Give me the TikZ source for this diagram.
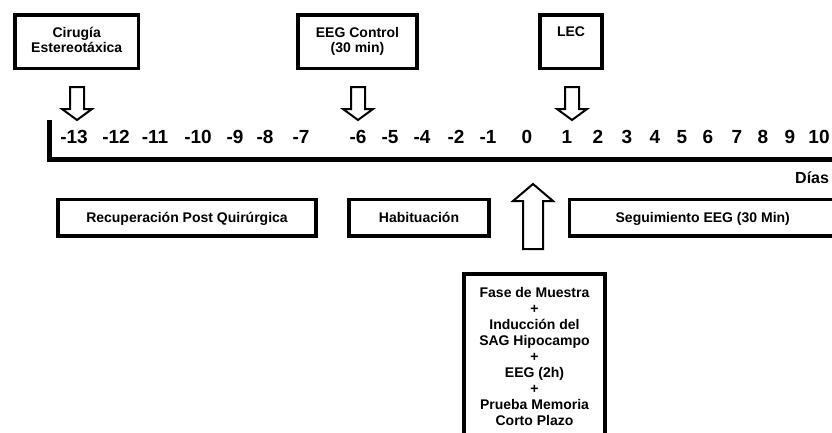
\documentclass[tikz,border=0pt]{standalone}
\usepackage{fontspec}
\setmainfont{Liberation Sans}

\tikzset{
  downblock/.pic={
    \draw[blockarrow] (-7,-33) -- (7,-33) -- (7,-11) -- (15,-11) -- (0,0)
      -- (-15,-11) -- (-7,-11) -- cycle;
  },
  upblock/.pic={
    \draw[blockarrow] (-10,65) -- (10,65) -- (10,17) -- (20,17) -- (0,0)
      -- (-20,17) -- (-10,17) -- cycle;
  }
}

\begin{document}
\begin{tikzpicture}[x=1pt,y=-1pt,
  frame/.style={draw=black, line width=3.5pt, fill=white, inner sep=0pt},
  lbl/.style={font=\fontsize{14}{15}\selectfont\bfseries, inner sep=0pt, align=center},
  barlbl/.style={font=\fontsize{14}{15}\selectfont\bfseries, text height=10pt, text depth=0pt},
  daynum/.style={font=\fontsize{19}{22}\selectfont\bfseries, inner sep=0pt, anchor=base},
  blockarrow/.style={draw=black, line width=2pt, fill=white, line join=miter}]
\useasboundingbox (0,0) rectangle (832,432);

% events above the time line
\node[frame, minimum width=123.5pt, minimum height=53.5pt] (cir) at (76.75,41.75) {};
\node[lbl, anchor=north] (cirtxt) at (76.75,27) {Cirugía\\Estereotáxica};
\node[frame, minimum width=119pt, minimum height=53.5pt] (eeg) at (357.5,41.75) {};
\node[lbl, anchor=north] (eegtxt) at (357.5,27) {EEG Control\\(30 min)};
\node[frame, minimum width=62pt, minimum height=53.5pt] (lec) at (571,41.75) {};
\node[lbl, anchor=north] (lectxt) at (571,27) {LEC};

% hollow arrows pointing at the days
\coordinate (tipA) at (77,120);
\coordinate (tipB) at (358,120);
\coordinate (tipC) at (572,120);
\pic at (tipA) {downblock};
\pic at (tipB) {downblock};
\pic at (tipC) {downblock};

% time axis
\coordinate (axisTop) at (49.5,120);
\coordinate (axisCorner) at (49.5,159);
\coordinate (axisEnd) at (845,159);
\draw[line width=5pt, line join=miter] (axisTop) -- (axisCorner) -- (axisEnd);

\foreach \xx/\dd in {74/-13,116/-12,155/-11,198/-10,235/-9,265/-8,301/-7,
                     358/-6,390/-5,422/-4,456/-2,488/-1,527/0,567/1,598/2,
                     627/3,655/4,682/5,708/6,737/7,763/8,790/9,819/10}
  \node[daynum] (d\dd) at (\xx,143) {\dd};

\node[font=\fontsize{16}{18}\selectfont\bfseries, inner sep=0pt, anchor=base west]
  (dias) at (795,183) {Días};

% periods below the time line
\node[frame, barlbl, minimum width=258pt, minimum height=36.5pt] (recup) at (187,217.75)
  {Recuperación Post Quirúrgica};
\node[frame, barlbl, minimum width=140pt, minimum height=36.5pt] (habit) at (419,217.75)
  {Habituación};
\node[frame, barlbl, minimum width=266.5pt, minimum height=36.5pt] (segui) at (702.75,217.75)
  {Seguimiento EEG (30 Min)};

% day 0 protocol
\coordinate (tipUp) at (533,184);
\pic at (tipUp) {upblock};
\node[frame, minimum width=141pt, minimum height=171pt] (proto) at (534.5,359.5) {};
\node[lbl, font=\fontsize{14}{16}\selectfont\bfseries, anchor=north] (prototxt) at (534.5,287)
  {Fase de Muestra\\+\\Inducción del\\SAG Hipocampo\\+\\EEG (2h)\\+\\Prueba Memoria\\Corto Plazo};
\end{tikzpicture}
\end{document}
